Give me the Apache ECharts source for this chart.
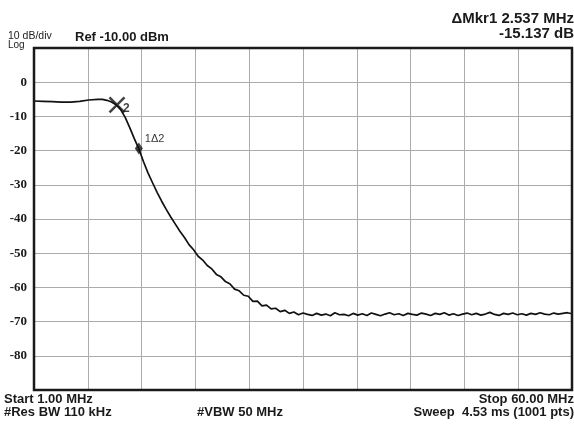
<!DOCTYPE html>
<html>
<head>
<meta charset="utf-8">
<script src="https://cdn.jsdelivr.net/npm/echarts@6/dist/echarts.min.js"></script>
<style>
  html, body { margin: 0; padding: 0; background: #fff; }
  #chart { width: 574px; height: 424px; }
</style>
</head>
<body>
<div id="chart"></div>
<script>
// trace, MHz -> dB
const freqs = [1, 2, 3, 4, 5, 6, 7, 8, 8.5, 9, 9.5, 10, 10.5, 11, 11.5, 12, 12.5, 13, 13.5, 14,
  14.5, 15, 15.5, 16, 16.5, 17, 17.5, 18, 18.5, 19, 19.5, 20, 20.5, 21, 21.5, 22, 22.5, 23, 23.5, 24,
  24.5, 25, 25.5, 26, 26.5, 27, 27.5, 28, 28.5, 29, 29.5, 30, 30.5, 31, 31.5, 32, 32.5, 33, 33.5, 34,
  34.5, 35, 35.5, 36, 36.5, 37, 37.5, 38, 38.5, 39, 39.5, 40, 40.5, 41, 41.5, 42, 42.5, 43, 43.5, 44,
  44.5, 45, 45.5, 46, 46.5, 47, 47.5, 48, 48.5, 49, 49.5, 50, 50.5, 51, 51.5, 52, 52.5, 53, 53.5, 54,
  54.5, 55, 55.5, 56, 56.5, 57, 57.5, 58, 58.5, 59, 59.5, 60];
const levels = [-5.5, -5.6, -5.7, -5.8, -5.8, -5.6, -5.2, -5.0, -5.0, -5.3, -5.8, -6.6, -8.0, -10.3, -13.3, -16.5, -19.5, -23.2, -26.5, -29.4,
  -32.2, -34.8, -37.2, -39.4, -41.5, -43.6, -45.4, -47.5, -49.0, -50.9, -52.0, -53.6, -54.6, -56.2, -56.9, -58.3, -59.0, -60.5, -61.0, -62.3,
  -62.6, -64.1, -64.0, -65.4, -65.2, -66.3, -66.1, -67.1, -66.7, -67.6, -67.2, -68.0, -67.5, -67.9, -68.2, -67.6, -68.1, -67.8, -68.3, -67.4,
  -68.0, -67.9, -68.3, -67.6, -68.1, -67.7, -68.2, -67.5, -67.9, -68.3, -67.8, -67.4, -68.0, -67.7, -68.2, -67.6, -67.9, -68.1, -67.5, -67.8,
  -68.2, -67.6, -67.9, -67.4, -68.1, -67.7, -68.2, -67.8, -67.5, -68.0, -67.6, -68.1, -67.8, -67.3, -67.9, -68.2, -67.6, -67.9, -67.5, -68.0,
  -67.7, -68.1, -67.6, -67.9, -67.4, -67.8, -68.0, -67.5, -67.8, -67.6, -67.4, -67.7];
const marker2 = [10.1, -6.6];
const marker1 = [12.5, -19.4];
const yTickLabels = [0, -10, -20, -30, -40, -50, -60, -70, -80];

let chart = echarts.init(document.getElementById('chart'));
const sans = 'Liberation Sans';
chart.setOption({
  animation: false,
  grid: { left: 34, top: 48, right: 2, bottom: 34 },
  xAxis: {
    type: 'value',
    min: 1, max: 60, interval: 5.9,
    axisLine: { show: false },
    axisTick: { show: false },
    axisLabel: { show: false },
    splitLine: { show: true, lineStyle: { color: '#ababab', width: 1 } }
  },
  yAxis: {
    type: 'value',
    min: -90, max: 10, interval: 10,
    axisLine: { show: false },
    axisTick: { show: false },
    axisLabel: {
      margin: 7,
      fontFamily: 'Liberation Serif', fontWeight: 'bold', fontSize: 13, color: '#1a1a1a',
      formatter: v => yTickLabels.indexOf(v) >= 0 ? String(v) : ''
    },
    splitLine: { show: true, lineStyle: { color: '#ababab', width: 1 } }
  },
  series: [
    {
      type: 'line',
      data: freqs.map((f, i) => [f, levels[i]]),
      symbol: 'none',
      lineStyle: { color: '#111', width: 1.7 },
      z: 3
    },
    {
      type: 'scatter',
      data: [marker2],
      symbol: 'path://M0,0 L10,10 M10,0 L0,10',
      symbolSize: 15,
      itemStyle: { color: 'none', borderColor: '#111', borderWidth: 2.5 },
      label: { show: true, formatter: '2', position: [16, 8], fontFamily: sans, fontWeight: 'bold', fontSize: 12, color: '#111' },
      z: 5
    },
    {
      type: 'scatter',
      data: [marker1],
      symbol: 'diamond',
      symbolSize: [8, 12],
      itemStyle: { color: '#111' },
      label: { show: true, formatter: '1\u03942', position: [10, -9], fontFamily: sans, fontSize: 11, color: '#000' },
      z: 5
    }
  ],
  graphic: [
    { type: 'rect', shape: { x: 34, y: 48, width: 538, height: 342 }, style: { fill: 'none', stroke: '#1a1a1a', lineWidth: 2.5 }, z: 10 },
    { type: 'text', left: 8, top: 31, style: { text: '10 dB/div', font: '10.5px ' + sans, fill: '#222' } },
    { type: 'text', left: 8, top: 40, style: { text: 'Log', font: '10px ' + sans, fill: '#222' } },
    { type: 'text', left: 75, top: 31, style: { text: 'Ref -10.00 dBm', font: 'bold 13px ' + sans, fill: '#1a1a1a' } },
    { type: 'text', right: 0, top: 11, style: { text: '\u0394Mkr1 2.537 MHz', font: 'bold 15px ' + sans, fill: '#1a1a1a' } },
    { type: 'text', right: 0, top: 26, style: { text: '-15.137 dB', font: 'bold 15px ' + sans, fill: '#1a1a1a' } },
    { type: 'text', left: 4, top: 393, style: { text: 'Start 1.00 MHz', font: 'bold 13px ' + sans, fill: '#1a1a1a' } },
    { type: 'text', left: 4, top: 406, style: { text: '#Res BW 110 kHz', font: 'bold 13px ' + sans, fill: '#1a1a1a' } },
    { type: 'text', left: 197, top: 406, style: { text: '#VBW 50 MHz', font: 'bold 13px ' + sans, fill: '#1a1a1a' } },
    { type: 'text', right: 0, top: 393, style: { text: 'Stop 60.00 MHz', font: 'bold 13px ' + sans, fill: '#1a1a1a' } },
    { type: 'text', right: 0, top: 406, style: { text: 'Sweep  4.53 ms (1001 pts)', font: 'bold 13px ' + sans, fill: '#1a1a1a' } }
  ]
});
</script>
</body>
</html>
